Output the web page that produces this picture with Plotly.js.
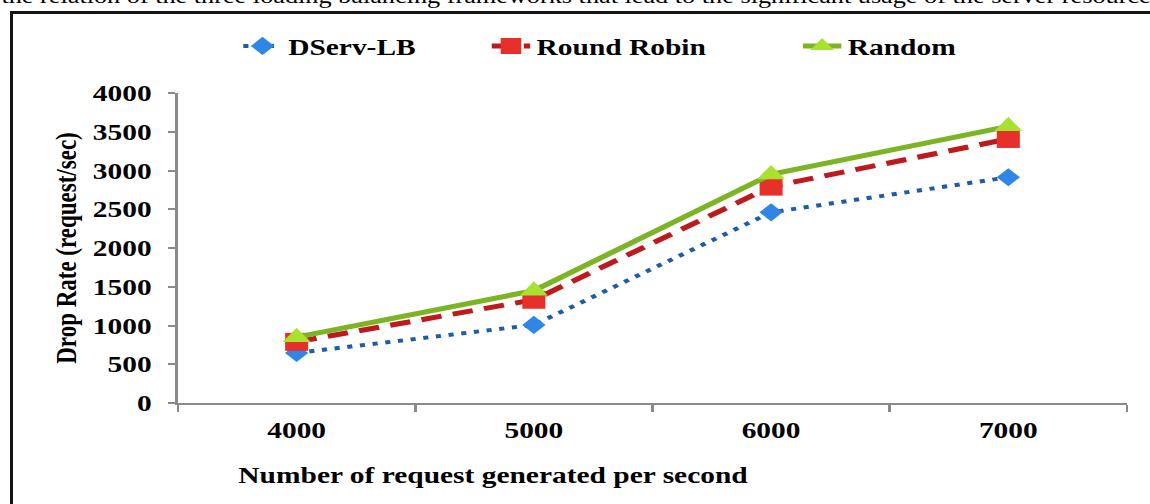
<!DOCTYPE html>
<html>
<head>
<meta charset="utf-8">
<script src="https://cdn.plot.ly/plotly-3.0.1.min.js"></script>
<style>
  html, body { margin: 0; padding: 0; background: #fff; }
  body { width: 1150px; height: 504px; overflow: hidden; position: relative; }
  #chart { width: 898px; height: 504px; transform: scaleX(1.2806); transform-origin: 0 0; position: absolute; left: 0; top: 0; }
  #frame { position: absolute; left: 10px; top: 11px; width: 1200px; height: 600px;
           border-left: 3px solid #151515; border-top: 3px solid #151515; pointer-events: none; }
</style>
</head>
<body>
<div id="chart"></div>
<div id="frame"></div>
<script>
const categories = ['4000', '5000', '6000', '7000'];
const dservLB = [646, 1008, 2460, 2913];
const roundRobin = [789, 1332, 2792, 3407];
const randomLB = [850, 1450, 2950, 3570];
const yTicks = [0, 500, 1000, 1500, 2000, 2500, 3000, 3500, 4000];
const seriesNames = ['DServ-LB', 'Round Robin', 'Random'];
const captionText = 'the relation of the three loading balancing frameworks that lead to the significant usage of the server resources';
const xTitleText = 'Number of request generated per second';
const yTitleText = 'Drop Rate (request/sec)';

const serif = 'Liberation Serif, Times New Roman, serif';
const boldFont = (size) => ({ family: serif, size: size, color: '#000', weight: 'bold' });

const traces = [
  {
    x: categories, y: dservLB, name: seriesNames[0], type: 'scatter', mode: 'lines+markers',
    line: { color: '#1E5CA8', width: 4, dash: '4px,6px' },
    marker: { symbol: 'diamond', size: 14, color: '#2F86E6' },
    legend: 'legend'
  },
  {
    x: categories, y: roundRobin, name: seriesNames[1], type: 'scatter', mode: 'lines+markers',
    line: { color: '#BE1A1E', width: 5, dash: '16px,9px' },
    marker: { symbol: 'square', size: 18, color: '#E8302A' },
    legend: 'legend2'
  },
  {
    x: categories, y: randomLB, name: seriesNames[2], type: 'scatter', mode: 'lines+markers',
    line: { color: '#7CB424', width: 5 },
    marker: { symbol: 'triangle-up', size: 19, color: '#A6E22E' },
    legend: 'legend3'
  }
];

const legendBase = {
  orientation: 'h', xref: 'container', yref: 'container', yanchor: 'middle', xanchor: 'left',
  y: 1 - 46 / 504, font: boldFont(23), bgcolor: 'rgba(0,0,0,0)', borderwidth: 0
};

const layout = {
  width: 898, height: 504,
  margin: { l: 139, r: 17.5, t: 93, b: 101, pad: 0 },
  paper_bgcolor: '#fff', plot_bgcolor: '#fff',
  showlegend: true,
  legend: Object.assign({}, legendBase, { x: 185 / 898 }),
  legend2: Object.assign({}, legendBase, { x: 379 / 898 }),
  legend3: Object.assign({}, legendBase, { x: 622 / 898 }),
  xaxis: {
    type: 'category', range: [-0.5, 3.5], tickson: 'boundaries',
    showline: true, linecolor: '#8a8a8a', linewidth: 2,
    ticks: 'outside', ticklen: 7, tickwidth: 2, tickcolor: '#8a8a8a',
    showgrid: false, zeroline: false, tickfont: boldFont(23), ticklabelstandoff: 5,
    fixedrange: true
  },
  yaxis: {
    range: [0, 4000], tickvals: yTicks, ticktext: yTicks.map(String),
    showline: true, linecolor: '#8a8a8a', linewidth: 2,
    ticks: 'outside', ticklen: 6, tickwidth: 2, tickcolor: '#8a8a8a',
    showgrid: false, zeroline: false, tickfont: boldFont(23), ticklabelstandoff: 8,
    title: { text: yTitleText, font: boldFont(23), standoff: 6 },
    fixedrange: true
  },
  annotations: [
    {
      text: captionText, xref: 'paper', yref: 'paper',
      x: -0.1895, y: 1.268, xanchor: 'left', yanchor: 'bottom', showarrow: false,
      font: { family: serif, size: 20.5, color: '#000' }
    },
    {
      text: xTitleText, xref: 'paper', yref: 'paper',
      x: 0.332, y: -0.235, xanchor: 'center', yanchor: 'middle', showarrow: false,
      font: boldFont(23)
    }
  ]
};

Plotly.newPlot('chart', traces, layout, { displayModeBar: false, staticPlot: true });
</script>
</body>
</html>
